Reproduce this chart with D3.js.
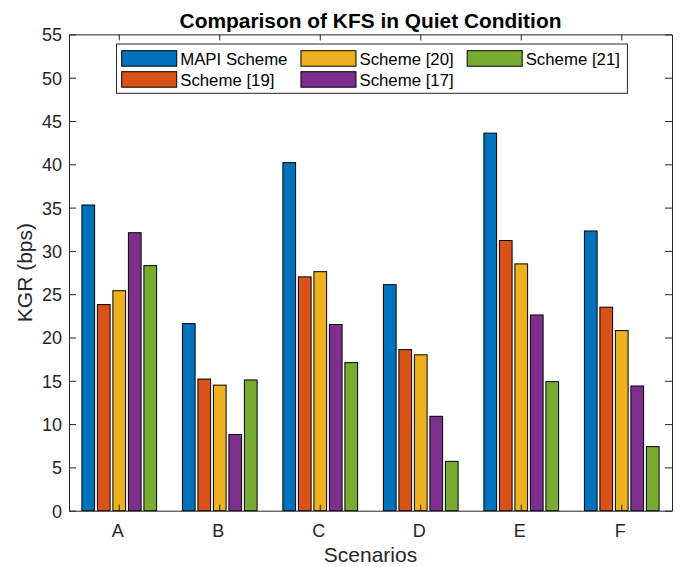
<!DOCTYPE html>
<html>
<head>
<meta charset="utf-8">
<script src="https://cdn.jsdelivr.net/npm/d3@7"></script>
<style>
  body { margin: 0; background: #fff; }
  text { font-family: "Liberation Sans", Arial, sans-serif; fill: #262626; }
</style>
</head>
<body>
<script>
const scenarios = ["A", "B", "C", "D", "E", "F"]
const seriesNames = ["MAPI Scheme", "Scheme [19]", "Scheme [20]", "Scheme [17]", "Scheme [21]"]
const seriesColors = ["#0072BD", "#D95319", "#EDB120", "#7E2F8E", "#77AC30"]
const mapi = [35.3, 21.6, 40.2, 26.1, 43.6, 32.3]
const scheme19 = [23.8, 15.2, 27.0, 18.6, 31.2, 23.5]
const scheme20 = [25.4, 14.5, 27.6, 18.0, 28.5, 20.8]
const scheme17 = [32.1, 8.8, 21.5, 10.9, 22.6, 14.4]
const scheme21 = [28.3, 15.1, 17.1, 5.7, 14.9, 7.4]
const yTicks = [0, 5, 10, 15, 20, 25, 30, 35, 40, 45, 50, 55]

const seriesValues = [mapi, scheme19, scheme20, scheme17, scheme21]

const w = 680
const h = 567
const mLeft = 69, mRight = 672, mTop = 34.4, mBottom = 510.7

const svg = d3.select("body").append("svg").attr("width", w).attr("height", h)

const x0 = d3.scaleBand().domain(scenarios).range([mLeft, mRight]).padding(0)
const x1 = d3.scaleBand().domain(seriesNames).range([-37.35, 37.35]).paddingInner(0.18)
const y = d3.scaleLinear().domain([0, 55]).range([mBottom, mTop])

// bars
const groups = svg.selectAll("g.grp")
  .data(scenarios)
  .enter()
  .append("g")
  .attr("class", "grp")
  .attr("transform", (d) => `translate(${x0(d) + x0.bandwidth() / 2},0)`)

groups.selectAll("rect")
  .data((d, i) => seriesNames.map((s, j) => ({ s, j, v: seriesValues[j][i] })))
  .enter()
  .append("rect")
  .attr("x", (d) => x1(d.s))
  .attr("width", x1.bandwidth())
  .attr("y", (d) => y(d.v))
  .attr("height", (d) => y(0) - y(d.v))
  .attr("fill", (d) => seriesColors[d.j])
  .attr("stroke", "#000")
  .attr("stroke-width", 1)

// box and axes (ticks inward, mirrored)
const axisColor = "#262626"
const yAxisL = svg.append("g").attr("transform", `translate(${mLeft},0)`)
  .call(d3.axisLeft(y).tickValues(yTicks).tickSizeInner(-7).tickSizeOuter(0).tickPadding(7))
const yAxisR = svg.append("g").attr("transform", `translate(${mRight},0)`)
  .call(d3.axisRight(y).tickValues(yTicks).tickSizeInner(-7).tickSizeOuter(0).tickFormat(""))
const xAxisB = svg.append("g").attr("transform", `translate(0,${mBottom})`)
  .call(d3.axisBottom(x0).tickSizeInner(-6).tickSizeOuter(0).tickPadding(14))
const xAxisT = svg.append("g").attr("transform", `translate(0,${mTop})`)
  .call(d3.axisTop(x0).tickSizeInner(-6).tickSizeOuter(0).tickFormat(""))

;[yAxisL, yAxisR, xAxisB, xAxisT].forEach((g) => {
  g.select(".domain").attr("stroke", axisColor)
  g.selectAll(".tick line").attr("stroke", axisColor)
  g.selectAll("text").attr("font-family", "Liberation Sans, Arial, sans-serif")
    .attr("font-size", "18px").attr("fill", "#262626")
})
yAxisL.selectAll(".tick text").attr("dy", "0.36em")
xAxisB.selectAll(".tick text").attr("dx", "-1.5")

// title and labels
svg.append("text")
  .attr("x", (mLeft + mRight) / 2).attr("y", 28)
  .attr("text-anchor", "middle")
  .attr("font-size", "20.9px").attr("font-weight", "bold")
  .style("fill", "#000")
  .text("Comparison of KFS in Quiet Condition")

svg.append("text")
  .attr("x", (mLeft + mRight) / 2).attr("y", 562)
  .attr("text-anchor", "middle")
  .attr("font-size", "21px")
  .text("Scenarios")

svg.append("text")
  .attr("transform", `translate(32,${(mTop + mBottom) / 2}) rotate(-90)`)
  .attr("text-anchor", "middle")
  .attr("font-size", "21px")
  .text("KGR (bps)")

// legend: 2 rows, filled column by column
const lg = svg.append("g")
const lgBox = lg.append("rect")
  .attr("x", 116.5).attr("y", 44).attr("height", 49.3)
  .attr("fill", "#fff").attr("stroke", "#262626").attr("stroke-width", 1)

const rowsY = [50.7, 71.7]
let colX = 121.7
const items = seriesNames.map((s, i) => ({ s, i, col: Math.floor(i / 2), row: i % 2 }))
const nCols = Math.ceil(seriesNames.length / 2)
for (let c = 0; c < nCols; c++) {
  let maxW = 0
  items.filter((d) => d.col === c).forEach((d) => {
    lg.append("rect")
      .attr("x", colX).attr("y", rowsY[d.row])
      .attr("width", 55).attr("height", 15.5)
      .attr("fill", seriesColors[d.i]).attr("stroke", "#000").attr("stroke-width", 1)
    const t = lg.append("text")
      .attr("x", colX + 58.5).attr("y", rowsY[d.row] + 8)
      .attr("dy", "0.36em")
      .attr("font-size", "16.8px")
      .style("fill", "#000")
      .text(d.s)
    maxW = Math.max(maxW, t.node().getComputedTextLength())
  })
  colX = colX + 58.5 + maxW + 13.5
}
lgBox.attr("width", colX - 116.5 - 6)
</script>
</body>
</html>
